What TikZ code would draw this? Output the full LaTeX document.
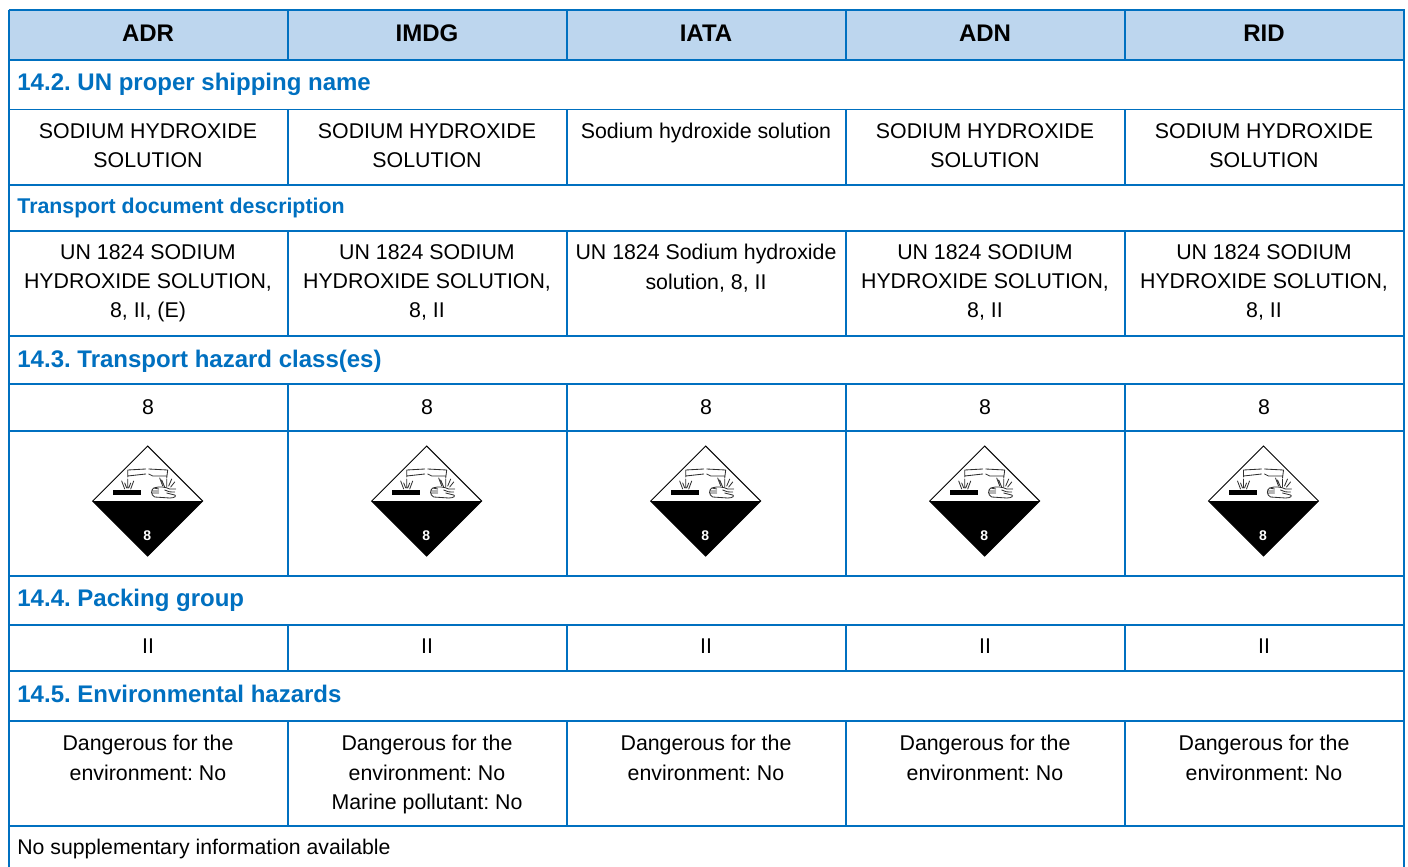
\documentclass[tikz,border=0pt]{standalone}
\usepackage{fontspec}
\setmainfont{Liberation Sans}
\definecolor{rule}{HTML}{0070C0}
\definecolor{headfill}{HTML}{BDD6EE}
\definecolor{pictgrey}{HTML}{303030}
\tikzset{
  x=0.5pt,y=-0.5pt,
  grid/.style={draw=rule,line width=0.8pt},
  headtxt/.style={font=\fontsize{12}{14}\selectfont\bfseries,anchor=center,inner sep=0pt},
  sect/.style={font=\fontsize{12}{14}\selectfont\bfseries,text=rule,anchor=base west,inner sep=0pt},
  subsect/.style={font=\fontsize{10.67}{13}\selectfont\bfseries,text=rule,anchor=base west,inner sep=0pt},
  celltxt/.style={font=\fontsize{10.67}{14.6}\selectfont,anchor=north,align=center,inner sep=0pt},
  plain/.style={font=\fontsize{10.62}{14.6}\selectfont,anchor=base west,inner sep=0pt},
  pict/.style={line width=0.42pt,draw=pictgrey,line cap=round},
  pic8/.style={font=\fontsize{7}{8}\selectfont\bfseries,text=white,inner sep=0pt},
  hazard/.pic={
    \fill[white] (0,-55) -- (55,0) -- (0,55) -- (-55,0) -- cycle;
    \fill[black] (-55,0) -- (55,0) -- (0,55) -- cycle;
    \draw[black,line width=0.5pt,line join=miter] (0,-55) -- (55,0) -- (0,55) -- (-55,0) -- cycle;
    \node[pic8] at (-0.5,34.5) {8};
    % corroded plate
    \fill[black] (-34.5,-11) rectangle (-6.5,-6);
    % left tube
    \draw[pict] (-20,-31) -- (-2,-32) (-20,-25) -- (-2,-27) (-20,-31) -- (-20,-24);
    % right tube
    \draw[pict] (1,-32) -- (20,-31) (1,-27) -- (5,-25) -- (19,-25) (20,-31) -- (19,-23);
    % drips on plate
    \draw[pict] (-20,-22) -- (-20,-13) (-26,-20) -- (-23,-12) (-14,-20) -- (-17,-12) (-23,-18) -- (-21,-13) (-17,-18) -- (-19,-13);
    % drips on hand
    \draw[pict] (19,-22) -- (19,-14) (12,-23) -- (15,-15) (14,-21) -- (17,-14) (24,-22) -- (21,-15) (27,-19) -- (23,-14);
    % hand
    \draw[pict] (6,-13) .. controls (12,-15) and (18,-14) .. (22,-12) -- (28,-12)
      (6,-13) -- (11,-12) (5,-10) -- (11,-10) (5,-8) -- (11,-8)
      (6,-13) .. controls (3,-11) and (3,-6) .. (7,-4) -- (22,-3)
      .. controls (27,-3) and (29,-5) .. (27,-6) -- (19,-8);
    \draw[pict] (17,-11) .. controls (20,-9) and (23,-9) .. (27,-9);
  }
}
\begin{document}
\frenchspacing
\begin{tikzpicture}
\useasboundingbox (0,0) rectangle (1408,867);
\fill[white] (0,0) rectangle (1408,867);
\fill[headfill] (9,10) rectangle (1404,60);
% horizontal rules
\foreach \yy in {10,60,109.5,185,231,336,384,431,576,625,671,721,826}
  \draw[grid] (8.5,\yy) -- (1404.5,\yy);
% outer verticals
\draw[grid] (9,10) -- (9,867);
\draw[grid] (1404,10) -- (1404,867);
% column rules by row
\foreach \xx in {288,567,846,1125}{
  \draw[grid] (\xx,10) -- (\xx,60);
  \draw[grid] (\xx,109.5) -- (\xx,185);
  \draw[grid] (\xx,231) -- (\xx,336);
  \draw[grid] (\xx,384) -- (\xx,576);
  \draw[grid] (\xx,625) -- (\xx,671);
  \draw[grid] (\xx,721) -- (\xx,826);
}
% header
\node[headtxt] (h1) at (148,33) {ADR};
\node[headtxt] (h2) at (427,33) {IMDG};
\node[headtxt] (h3) at (706,33) {IATA};
\node[headtxt] (h4) at (985,33) {ADN};
\node[headtxt] (h5) at (1264,33) {RID};
% section titles
\node[sect] (s1) at (17,90) {14.2. UN proper shipping name};
\node[subsect] (s2) at (17,213) {Transport document description};
\node[sect] (s3) at (17,367) {14.3. Transport hazard class(es)};
\node[sect] (s4) at (17,606) {14.4. Packing group};
\node[sect] (s5) at (17,702) {14.5. Environmental hazards};
% proper shipping name
\node[celltxt] (a1) at (148,123) {SODIUM HYDROXIDE\\SOLUTION};
\node[celltxt] (a2) at (427,123) {SODIUM HYDROXIDE\\SOLUTION};
\node[celltxt] (a3) at (706,123) {Sodium hydroxide solution};
\node[celltxt] (a4) at (985,123) {SODIUM HYDROXIDE\\SOLUTION};
\node[celltxt] (a5) at (1264,123) {SODIUM HYDROXIDE\\SOLUTION};
% transport document
\node[celltxt] (b1) at (148,244) {UN 1824 SODIUM\\HYDROXIDE SOLUTION,\\8, II, (E)};
\node[celltxt] (b2) at (427,244) {UN 1824 SODIUM\\HYDROXIDE SOLUTION,\\8, II};
\node[celltxt] (b3) at (706,244) {UN 1824 Sodium hydroxide\\solution, 8, II};
\node[celltxt] (b4) at (985,244) {UN 1824 SODIUM\\HYDROXIDE SOLUTION,\\8, II};
\node[celltxt] (b5) at (1264,244) {UN 1824 SODIUM\\HYDROXIDE SOLUTION,\\8, II};
% class
\node[celltxt] (c1) at (148,399) {8};
\node[celltxt] (c2) at (427,399) {8};
\node[celltxt] (c3) at (706,399) {8};
\node[celltxt] (c4) at (985,399) {8};
\node[celltxt] (c5) at (1264,399) {8};
% hazard diamonds
\pic at (147.7,501) {hazard};
\pic at (426.7,501) {hazard};
\pic at (705.7,501) {hazard};
\pic at (984.7,501) {hazard};
\pic at (1263.5,501) {hazard};
% packing group
\node[celltxt] (d1) at (148,638.5) {II};
\node[celltxt] (d2) at (427,638.5) {II};
\node[celltxt] (d3) at (706,638.5) {II};
\node[celltxt] (d4) at (985,638.5) {II};
\node[celltxt] (d5) at (1264,638.5) {II};
% environmental
\node[celltxt] (e1) at (148,735) {Dangerous for the\\environment: No};
\node[celltxt] (e2) at (427,735) {Dangerous for the\\environment: No\\Marine pollutant: No};
\node[celltxt] (e3) at (706,735) {Dangerous for the\\environment: No};
\node[celltxt] (e4) at (985,735) {Dangerous for the\\environment: No};
\node[celltxt] (e5) at (1264,735) {Dangerous for the\\environment: No};
\node[plain] (f) at (17,854) {No supplementary information available};
\end{tikzpicture}
\end{document}
